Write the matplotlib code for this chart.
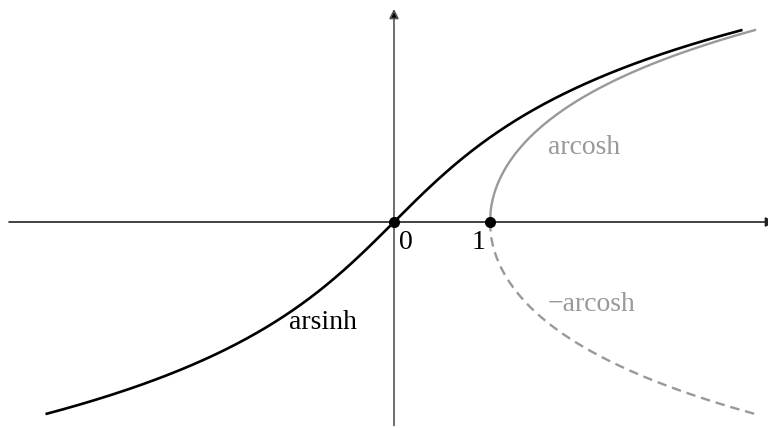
import matplotlib.pyplot as plt
import numpy as np

# Domains of the curves
arsinh_range = (-3.63, 3.63)
arcosh_range = (1.0, 3.76)

# Marked points on the x axis and their labels
marked_x = [0, 1]
marked_labels = ['0', '1']

plt.rcParams['font.family'] = ['Liberation Serif', 'DejaVu Serif']

fig = plt.figure(figsize=(7.68, 4.28), dpi=100)
ax = fig.add_axes([0, 0, 1, 1])
ax.set_xlim(-394 / 96, 374 / 96)
ax.set_ylim(-206 / 96, 222 / 96)
ax.set_aspect('equal')
ax.axis('off')

# Axes with arrows
ax.annotate('', xy=(3.97, 0), xytext=(-4.01, 0), annotation_clip=False,
            arrowprops=dict(arrowstyle='-|>', color='#222222', lw=1.2,
                            mutation_scale=14, shrinkA=0, shrinkB=0))
ax.annotate('', xy=(0, 2.22), xytext=(0, -2.12), annotation_clip=False,
            arrowprops=dict(arrowstyle='-|>', color='#555555', fc='black', lw=1.2,
                            mutation_scale=14, shrinkA=0, shrinkB=0))

# arsinh
x1 = np.linspace(*arsinh_range, 400)
ax.plot(x1, np.arcsinh(x1), color='black', lw=1.9, solid_capstyle='butt')

# arcosh and its negative
x2 = np.linspace(*arcosh_range, 400)
ax.plot(x2, np.arccosh(x2), color='#999999', lw=1.7)
ax.plot(x2, -np.arccosh(x2), color='#999999', lw=1.7, dashes=(4, 2.5))

ax.plot(marked_x, [0, 0], 'o', color='black', ms=7, zorder=5)
for xv, lab in zip(marked_x, marked_labels):
    ax.text(xv + (0.12 if xv == 0 else -0.12), -0.08, lab, fontsize=20,
            ha='center', va='top')

ax.text(1.6, 0.78, 'arcosh', fontsize=20, color='#999999', ha='left', va='center')
ax.text(1.6, -0.86, '\u2212arcosh', fontsize=20, color='#999999', ha='left', va='center')
ax.text(-0.74, -1.05, 'arsinh', fontsize=20, color='black', ha='center', va='center')

fig.savefig('out.png', dpi=100)
